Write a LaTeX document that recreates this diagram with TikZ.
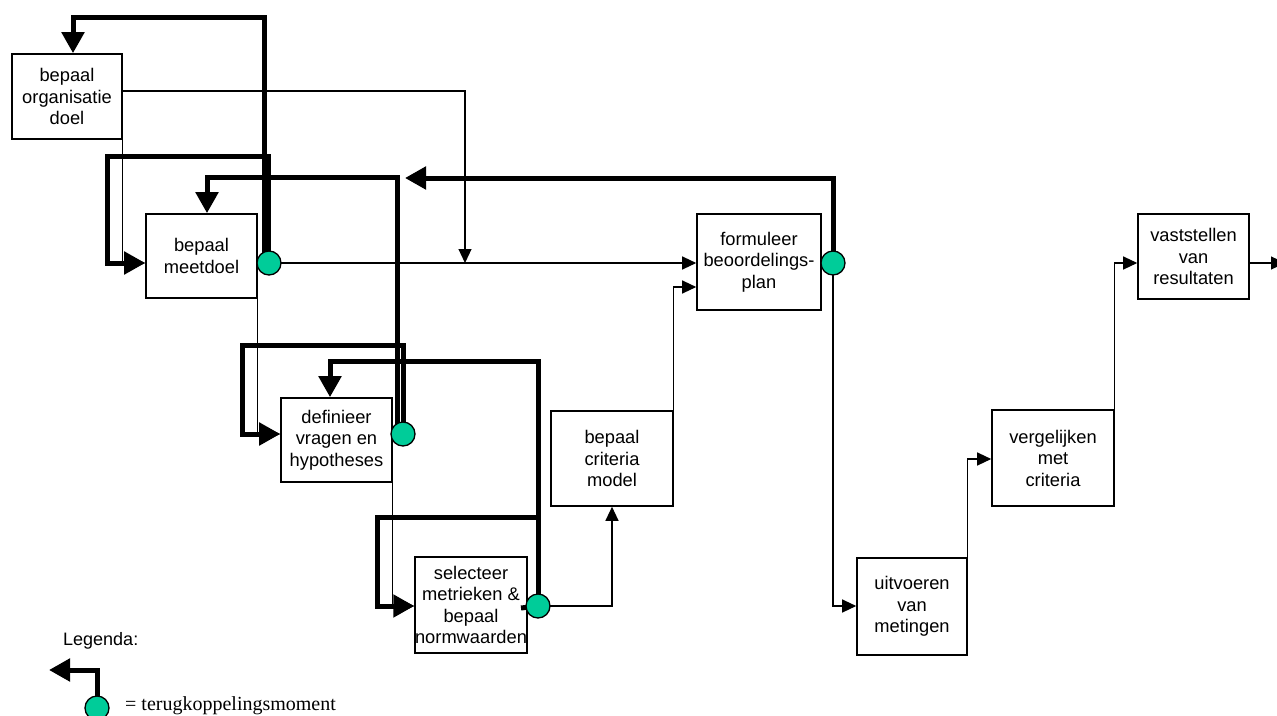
\documentclass[tikz,border=0pt]{standalone}
\usepackage{fontspec}
\setmainfont{Liberation Sans}
\newfontfamily\legserif{Liberation Serif}
\usetikzlibrary{arrows.meta}
\definecolor{fbgreen}{RGB}{0,204,153}
\begin{document}
\begin{tikzpicture}[x=1pt,y=-1pt,
  box/.style={draw, line width=1.6pt, inner sep=0pt, align=center,
    font=\fontsize{18.3}{21.5}\selectfont},
  thinarrow/.style={line width=1.2pt, -{Triangle[length=14pt,width=13pt]}},
  thinline/.style={line width=1.2pt},
  fb/.style={line width=5pt, -{Triangle[length=21pt,width=22pt]}},
  fbline/.style={line width=5pt},
  pt/.style={circle, draw, line width=1.3pt, fill=fbgreen, minimum size=24pt, inner sep=0pt}]
\useasboundingbox (0,0) rectangle (1277,715);

% boxes
\node[box, minimum width=110pt, minimum height=85pt] (org) at (67,96.5) {bepaal\\organisatie\\doel};
\node[box, minimum width=111pt, minimum height=84pt] (meet) at (201.5,256) {bepaal\\meetdoel};
\node[box, minimum width=111pt, minimum height=84pt] (def) at (336.5,440) {definieer\\vragen en\\hypotheses};
\node[box, minimum width=110pt, minimum height=96pt] (sel) at (471,605) {selecteer\\metrieken \&\\bepaal\\normwaarden};
\node[box, minimum width=122pt, minimum height=95pt] (crit) at (612,458.5) {bepaal\\criteria\\model};
\node[box, minimum width=124pt, minimum height=96pt] (form) at (759,262) {formuleer\\beoordelings-\\plan};
\node[box, minimum width=110pt, minimum height=97pt] (uit) at (912,606.5) {uitvoeren\\van\\metingen};
\node[box, minimum width=122pt, minimum height=96pt] (verg) at (1053,458) {vergelijken\\met\\criteria};
\node[box, minimum width=111pt, minimum height=85pt] (vast) at (1193.5,256.5) {vaststellen\\van\\resultaten};

% feedback points (placed now, drawn on top later)
\coordinate (cmp) at (269,263);
\coordinate (cdp) at (403,434);
\coordinate (csp) at (538,606);
\coordinate (cfp) at (833,263);
\coordinate (clp) at (97,708);
\coordinate (join) at (465,263);
\coordinate (out) at (1285,263);
\coordinate (fbtip) at (405,178);
\coordinate (legtip) at (49,670);

% thin connectors
\draw[thinarrow] (org.east |- 0,91) -| (join);
\draw[thinarrow] (org.south east) |- (meet.west |- 0,263);
\draw[thinarrow] (cmp) -- (form.west |- 0,263);
\draw[thinarrow] (meet.south east) |- (def.west |- 0,434);
\draw[thinarrow] (def.south east) |- (sel.west |- 0,606);
\draw[thinarrow] (csp) -| (crit.south);
\draw[thinarrow] (crit.north east) |- (form.west |- 0,287);
\draw[thinarrow] (cfp) |- (uit.west |- 0,606);
\draw[thinarrow] (uit.north east) |- (verg.west |- 0,459);
\draw[thinarrow] (verg.north east) |- (vast.west |- 0,263);
\draw[thinarrow] (vast.east |- 0,263) -- (out);

% thick feedback loops
\draw[fb] (cmp -| 264,0) |- (73,17) -- (org.north -| 73,0);
\draw[fb] (cmp -| 268,0) |- (107,156) |- (meet.west |- 0,263);
\draw[fb] (cdp -| 397,0) |- (207,177) -- (meet.north -| 207,0);
\draw[fb] (cdp -| 403,0) |- (242,345) |- (def.west |- 0,434);
\draw[fb] (csp) |- (330,361) -- (def.north -| 330,0);
\draw[fb] (csp) |- (377,517) |- (sel.west |- 0,606);
\draw[fbline] (521,608) -- (csp);
\draw[fb] (cfp) |- (fbtip);

% circles
\node[pt] (cm) at (cmp) {};
\node[pt] (cd) at (cdp) {};
\node[pt] (cs) at (csp) {};
\node[pt] (cf) at (cfp) {};

% legend
\node[anchor=base west, inner sep=0pt, font=\fontsize{18}{21}\selectfont] (leg) at (63,645) {Legenda:};
\draw[fb] (clp) |- (legtip);
\node[pt] (cl) at (clp) {};
\node[anchor=base west, inner sep=0pt, font=\legserif\fontsize{20}{24}\selectfont] (legtxt) at (125,710) {= terugkoppelingsmoment};
\end{tikzpicture}
\end{document}
